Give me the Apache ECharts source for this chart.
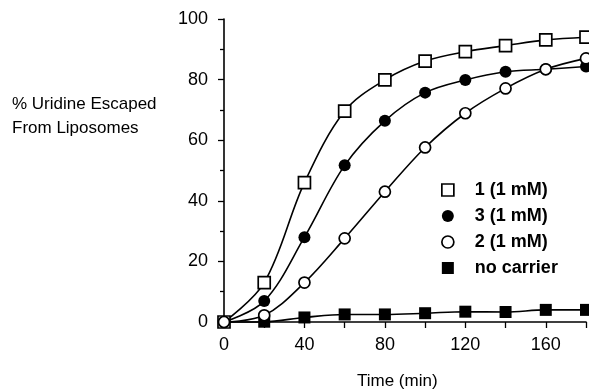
<!DOCTYPE html>
<html><head><meta charset="utf-8">
<script src="https://cdn.jsdelivr.net/npm/echarts@6/dist/echarts.min.js"></script>
<style>html,body{margin:0;padding:0;background:#fff}#c{width:589px;height:391px}</style>
</head><body><div id="c"></div>
<script>
var times = [0, 20, 40, 60, 80, 100, 120, 140, 160, 180];
var s1 = [0, 13.0, 46.0, 69.6, 79.9, 86.1, 89.2, 91.2, 93.1, 94.0];
var s3 = [0, 6.9, 28.0, 51.7, 66.4, 75.7, 79.9, 82.6, 83.4, 84.3];
var s2 = [0, 2.2, 13.0, 27.6, 43.0, 57.6, 68.9, 77.1, 83.4, 87.0];
var sNo = [0, 0.1, 1.5, 2.5, 2.5, 2.9, 3.4, 3.3, 4.0, 4.0];
var names = ['1 (1 mM)', '3 (1 mM)', '2 (1 mM)', 'no carrier'];
var yTicks = [0, 20, 40, 60, 80, 100];
var xTickLabels = [0, 40, 80, 120, 160];

function pairs(v){ return times.map(function(t,i){ return [t, v[i]]; }); }
var FONT = '"Liberation Sans", Arial, sans-serif';

function mk(name, data, symbol, size, hollow, z){
  return {
    name: name, type: 'line', data: pairs(data), smooth: 0.35,
    symbol: symbol, symbolSize: size, showSymbol: true, z: z,
    lineStyle: {color: '#000', width: 1.6},
    itemStyle: hollow ? {color: '#fff', borderColor: '#000', borderWidth: 1.7}
                      : {color: '#000', borderColor: '#000', borderWidth: 0},
    emphasis: {disabled: true}, animation: false, clip: false
  };
}

var chart = echarts.init(document.getElementById('c'), null, {renderer: 'canvas'});
chart.setOption({
  animation: false,
  backgroundColor: '#fff',
  grid: {left: 224, right: 0, top: 19, bottom: 69, containLabel: false},
  xAxis: {
    type: 'value', min: 0, max: 180, interval: 20,
    axisLine: {show: true, lineStyle: {color: '#000', width: 1.6}},
    axisTick: {show: true, inside: false, length: 6, lineStyle: {color: '#000', width: 1.3}},
    splitLine: {show: false},
    axisLabel: {
      margin: 14, color: '#000', fontSize: 18, fontFamily: FONT,
      formatter: function(v){ return xTickLabels.indexOf(v) >= 0 ? String(v) : ''; }
    }
  },
  yAxis: {
    type: 'value', min: 0, max: 100, interval: 20,
    axisLine: {show: true, lineStyle: {color: '#000', width: 1.6}},
    axisTick: {show: true, inside: false, length: 6, lineStyle: {color: '#000', width: 1.3}},
    minorTick: {show: true, splitNumber: 2, length: 4, lineStyle: {color: '#000', width: 1.3}},
    splitLine: {show: false},
    axisLabel: {
      margin: 16, color: '#000', fontSize: 18, fontFamily: FONT,
      formatter: function(v){ return yTicks.indexOf(v) >= 0 ? String(v) : ''; }
    }
  },
  legend: {
    orient: 'vertical', left: 436, top: 176, itemWidth: 12, itemHeight: 12, itemGap: 8,
    textStyle: {color: '#000', fontSize: 18, lineHeight: 18, fontWeight: 'bold', fontFamily: FONT, padding: [0,0,0,16]},
    selectedMode: false,
    data: [
      {name: names[0], icon: 'rect', itemStyle: {color: '#fff', borderColor: '#000', borderWidth: 1.7}},
      {name: names[1], icon: 'circle', itemStyle: {color: '#000', borderWidth: 0}},
      {name: names[2], icon: 'circle', itemStyle: {color: '#fff', borderColor: '#000', borderWidth: 1.7}},
      {name: names[3], icon: 'rect', itemStyle: {color: '#000', borderWidth: 0}}
    ]
  },
  graphic: [
    {type: 'text', left: 12, top: 92, style: {text: '% Uridine Escaped\nFrom Liposomes', font: '17px ' + FONT, fill: '#000', lineHeight: 24}},
    {type: 'text', left: 357, top: 373, style: {text: 'Time (min)', font: '17px ' + FONT, fill: '#000'}}
  ],
  series: [
    mk(names[3], sNo, 'rect', 12, false, 2),
    mk(names[0], s1, 'rect', 12, true, 3),
    mk(names[1], s3, 'circle', 12, false, 4),
    mk(names[2], s2, 'circle', 11, true, 5)
  ]
});
</script></body></html>
